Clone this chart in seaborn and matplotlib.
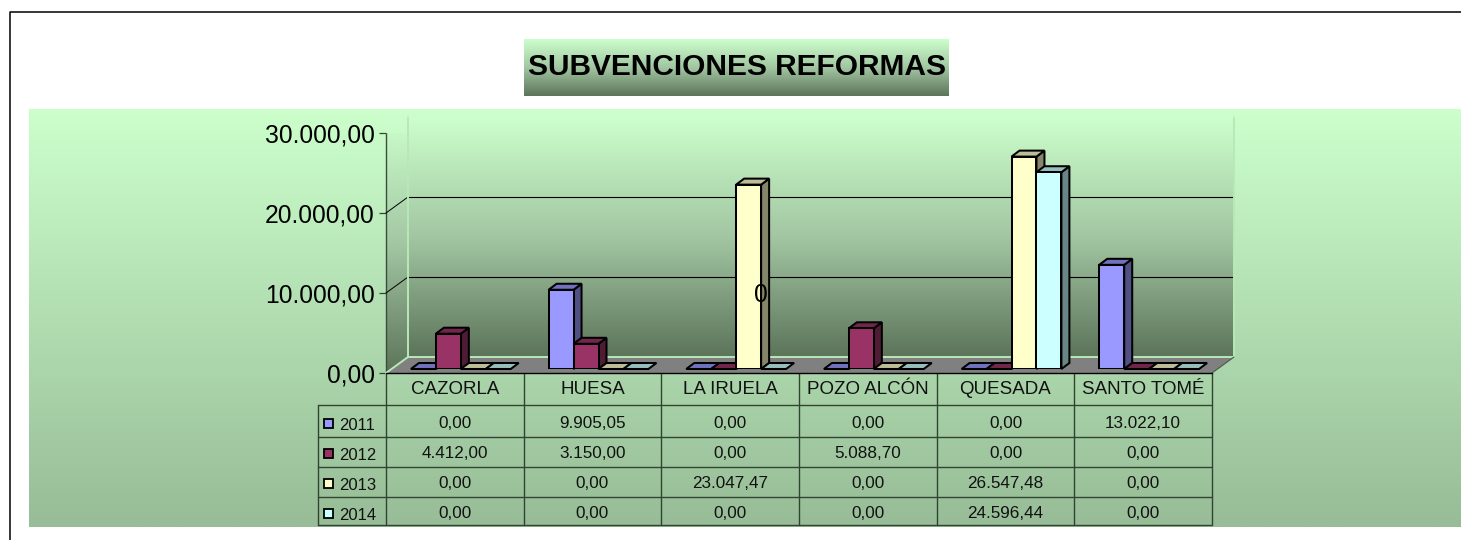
import numpy as np
import pandas as pd
import seaborn as sns
import matplotlib.pyplot as plt
from matplotlib.patches import Polygon, Rectangle
from matplotlib.colors import LinearSegmentedColormap, to_rgb

municipios = ["CAZORLA", "HUESA", "LA IRUELA", "POZO ALCÓN", "QUESADA", "SANTO TOMÉ"]
anios = ["2011", "2012", "2013", "2014"]
v2011 = [0.00, 9905.05, 0.00, 0.00, 0.00, 13022.10]
v2012 = [4412.00, 3150.00, 0.00, 5088.70, 0.00, 0.00]
v2013 = [0.00, 0.00, 23047.47, 0.00, 26547.48, 0.00]
v2014 = [0.00, 0.00, 0.00, 0.00, 24596.44, 0.00]
colores = ["#9999FF", "#993366", "#FFFFCC", "#CCFFFF"]
y_ticks = [0, 10000, 20000, 30000]
titulo = "SUBVENCIONES REFORMAS"

sns.set_style("white")
plt.rcParams["font.family"] = ["Liberation Sans", "DejaVu Sans"]
plt.rcParams["text.color"] = "black"


def es_num(v):
    # formato espanol: 9.905,05
    return f"{v:,.2f}".replace(",", "#").replace(".", ",").replace("#", ".")


df = pd.DataFrame({"municipio": municipios, "2011": v2011, "2012": v2012, "2013": v2013, "2014": v2014})
largo = df.melt(id_vars="municipio", var_name="anio", value_name="importe")

W, H = 1461, 540
fig = plt.figure(figsize=(W / 100, H / 100), dpi=100, facecolor="white")


def caja(x0, y0, x1, y1):
    return [x0 / W, 1 - y1 / H, (x1 - x0) / W, (y1 - y0) / H]


verde_fondo = LinearSegmentedColormap.from_list("fondo", ["#CCFFCC", "#97BC97"])
verde_muro = LinearSegmentedColormap.from_list("muro", ["#CCFFCC", "#A2C6A2", "#5C745A"])
grad = np.linspace(0, 1, 256).reshape(-1, 1)

# capa de fondo en pixeles
bg = fig.add_axes([0, 0, 1, 1], zorder=0)
bg.set_axis_off()
bg.imshow(grad, cmap=verde_fondo, extent=(29, W, 527, 109), aspect="auto")
bg.imshow(grad, cmap=verde_muro, extent=(524, 949, 96, 39), aspect="auto")
bg.plot([10, 10, W], [H, 12, 12], color="black", lw=1.1)
bg.set_xlim(0, W)
bg.set_ylim(H, 0)
bg.text(736.5, 67, titulo, fontsize=21.5, fontweight="bold", ha="center", va="center")

# plano frontal: muros, suelo, rejilla y eje y
front = fig.add_axes(caja(386, 133, 1212, 373), zorder=1)
front.patch.set_alpha(0)
px_x = 6 / 826
prof_x = 22 * px_x
prof_y = 16 * 30000 / 240
x0, x1 = -0.5, 5.5
top = 30000 + prof_y

muro = front.imshow(grad, cmap=verde_muro, extent=(x0 + prof_x, x1 + prof_x, prof_y, top), aspect="auto",
                    zorder=1, clip_on=False)
lado = front.imshow(grad, cmap=verde_muro, extent=(x0, x0 + prof_x, 0, top), aspect="auto", zorder=1)
clip = Polygon([(x0, 0), (x0 + prof_x, prof_y), (x0 + prof_x, top), (x0, 30000)], transform=front.transData)
lado.set_clip_path(clip)
front.add_patch(Polygon([(x0, 0), (x0 + prof_x, prof_y), (x1 + prof_x, prof_y), (x1, 0)],
                        fc="#808080", ec="none", zorder=2, clip_on=False))

for v in y_ticks[1:3]:
    front.plot([x0, x0 + prof_x], [v, v + prof_y], color="black", lw=0.7, zorder=3, clip_on=False)
    front.plot([x0 + prof_x, x1 + prof_x], [v + prof_y, v + prof_y], color="black", lw=0.8, zorder=3, clip_on=False)
borde = "#B8E8B8"
front.plot([x0, x0 + prof_x, x0 + prof_x], [0, prof_y, top], color=borde, lw=1.4, zorder=3, clip_on=False)
front.plot([x0 + prof_x, x1 + prof_x, x1 + prof_x], [prof_y, prof_y, top], color=borde, lw=1.4, zorder=3, clip_on=False)
front.plot([x0, x0 + prof_x], [30000, top], color="#DDF5DD", lw=0.8, ls=":", zorder=3, clip_on=False)
front.plot([x0 + prof_x, x1 + prof_x], [top, top], color="#D4F7D4", lw=0.6, zorder=3, clip_on=False)
front.plot([x1, x1 + prof_x], [0, prof_y], color="#4A5A4A", lw=0.8, zorder=3, clip_on=False)
front.plot([x0, x1], [0, 0], color="black", lw=1.0, zorder=4, clip_on=False)

front.set_xlim(x0, x1)
front.set_ylim(0, 30000)
front.set_xticks([])
front.set_yticks(y_ticks, [es_num(v) for v in y_ticks], fontsize=17.7, color="black", va="center_baseline")
front.tick_params(axis="y", length=5, width=0.9, color="#334433", pad=3, left=True)
for nombre, sp in front.spines.items():
    sp.set_visible(nombre == "left")
front.spines["left"].set_color("#3C4C3C")
front.spines["left"].set_linewidth(1.0)

# barras: plano desplazado dentro de la profundidad
ax = fig.add_axes(caja(392, 129, 1218, 369), zorder=2)
ax.patch.set_alpha(0)
sns.barplot(data=largo, x="municipio", y="importe", hue="anio", order=municipios, hue_order=anios,
            palette=colores, saturation=1, width=0.725, gap=0, edgecolor="black", linewidth=1.45,
            legend=False, ax=ax)
ax.set_xlim(x0, x1)
ax.set_ylim(0, 30000)
ax.set_axis_off()

bar_dx = 8 * px_x
bar_dy = 6 * 30000 / 240
barras = []
for cont, color in zip(ax.containers, colores):
    for b in cont:
        barras.append((b, to_rgb(color)))
barras.sort(key=lambda t: t[0].get_x())
for i, (b, rgb) in enumerate(barras):
    xa, xb = b.get_x(), b.get_x() + b.get_width()
    h = b.get_height()
    z = 10 + i * 2
    b.set_zorder(z + 1)
    tapa = tuple(c * 0.74 for c in rgb)
    costado = tuple(c * 0.52 for c in rgb)
    if h > 0:
        ax.add_patch(Polygon([(xb, 0), (xb + bar_dx, bar_dy), (xb + bar_dx, h + bar_dy), (xb, h)],
                             fc=costado, ec="black", lw=1.45, zorder=z, clip_on=False))
    ax.add_patch(Polygon([(xa, h), (xa + bar_dx, h + bar_dy), (xb + bar_dx, h + bar_dy), (xb, h)],
                         fc=tapa, ec="black", lw=1.45, zorder=z, clip_on=False))

ax.text(2.18, 9250, "0", fontsize=17.7, ha="center", va="center", color="black", zorder=200)

# tabla de datos bajo el grafico
filas_y = [405, 437, 467, 497, 525]
cols_x = list(np.linspace(386, 1212, len(municipios) + 1))
linea = "#2F452F"
for x in cols_x:
    bg.plot([x, x], [373, 525], color=linea, lw=1.0)
bg.plot([318, 318], [405, 525], color=linea, lw=1.0)
for y in filas_y:
    bg.plot([318, 1212], [y, y], color=linea, lw=1.0)

for j, nombre in enumerate(municipios):
    bg.text((cols_x[j] + cols_x[j + 1]) / 2, 389, nombre, fontsize=13.5, ha="center", va="center", color="#111111")

series = [v2011, v2012, v2013, v2014]
centros_y = [422, 452, 482, 512]
for i, serie in enumerate(series):
    yc = centros_y[i]
    bg.add_patch(Rectangle((324, yc - 3), 9, 9, fc=colores[i], ec="black", lw=1.3))
    bg.text(339, yc + 3, anios[i], fontsize=12, ha="left", va="center", color="#111111")
    for j, v in enumerate(serie):
        bg.text((cols_x[j] + cols_x[j + 1]) / 2, yc + 1.5, es_num(v), fontsize=12.3, ha="center", va="center", color="#111111")
bg.set_xlim(0, W)
bg.set_ylim(H, 0)

fig.savefig("out.png", dpi=100)
